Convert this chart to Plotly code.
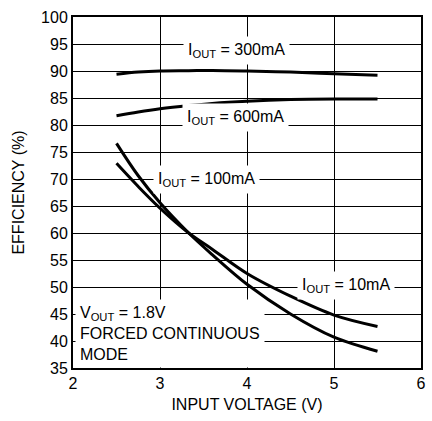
import plotly.graph_objects as go

vin = [2.5, 2.75, 3.0, 3.33, 3.6, 4.0, 4.5, 5.0, 5.5]
eff_300 = [89.4, 89.8, 90.0, 90.05, 90.1, 90.0, 89.8, 89.5, 89.2]
eff_600 = [81.7, 82.4, 83.0, 83.6, 84.0, 84.4, 84.7, 84.8, 84.8]
eff_100 = [76.6, 70.6, 65.6, 60.0, 56.0, 50.5, 45.0, 40.7, 38.1]
eff_10 = [72.9, 68.6, 64.6, 60.0, 57.0, 52.5, 48.3, 44.8, 42.7]

FONT = "Liberation Sans Narrow, Arial Narrow, Liberation Sans, Arial"

fig = go.Figure()
for ys in [eff_300, eff_600, eff_100, eff_10]:
    fig.add_trace(go.Scatter(x=vin, y=ys, mode="lines", line=dict(color="black", width=3, shape="spline"),
                             showlegend=False, hoverinfo="skip"))

def lab(text, x, y, xanchor="center", align="center"):
    fig.add_annotation(x=x, y=y, text=text, showarrow=False, xanchor=xanchor, align=align,
                       bgcolor="white", borderpad=4, font=dict(family=FONT, size=16, color="black"))

lab("I<sub>OUT</sub> = 300mA", 3.88, 93.8)
lab("I<sub>OUT</sub> = 600mA", 3.87, 81.4)
lab("I<sub>OUT</sub> = 100mA", 3.53, 70.0)
lab("I<sub>OUT</sub> = 10mA", 5.14, 50.3)
lab("V<sub>OUT</sub> = 1.8V<br>FORCED CONTINUOUS<br>MODE", 2.02, 41.3, xanchor="left", align="left")

fig.update_xaxes(range=[2, 6], tickvals=[2, 3, 4, 5, 6], showgrid=True, gridcolor="black", gridwidth=1,
                 showline=True, linecolor="black", linewidth=2, mirror=True, ticks="inside", ticklen=4,
                 tickcolor="black", zeroline=False,
                 title=dict(text="INPUT VOLTAGE (V)", font=dict(family=FONT, size=16, color="black"), standoff=8),
                 tickfont=dict(family=FONT, size=16, color="black"))
fig.update_yaxes(range=[35, 100], tickvals=list(range(35, 101, 5)), showgrid=True, gridcolor="black", gridwidth=1,
                 showline=True, linecolor="black", linewidth=2, mirror=True, ticks="inside", ticklen=4,
                 tickcolor="black", zeroline=False,
                 title=dict(text="EFFICIENCY (%)", font=dict(family=FONT, size=16, color="black"), standoff=12),
                 tickfont=dict(family=FONT, size=16, color="black"))
fig.update_layout(width=432, height=421, margin=dict(l=73, r=6, t=17, b=53),
                  plot_bgcolor="white", paper_bgcolor="white")
fig.write_html("out.html")
